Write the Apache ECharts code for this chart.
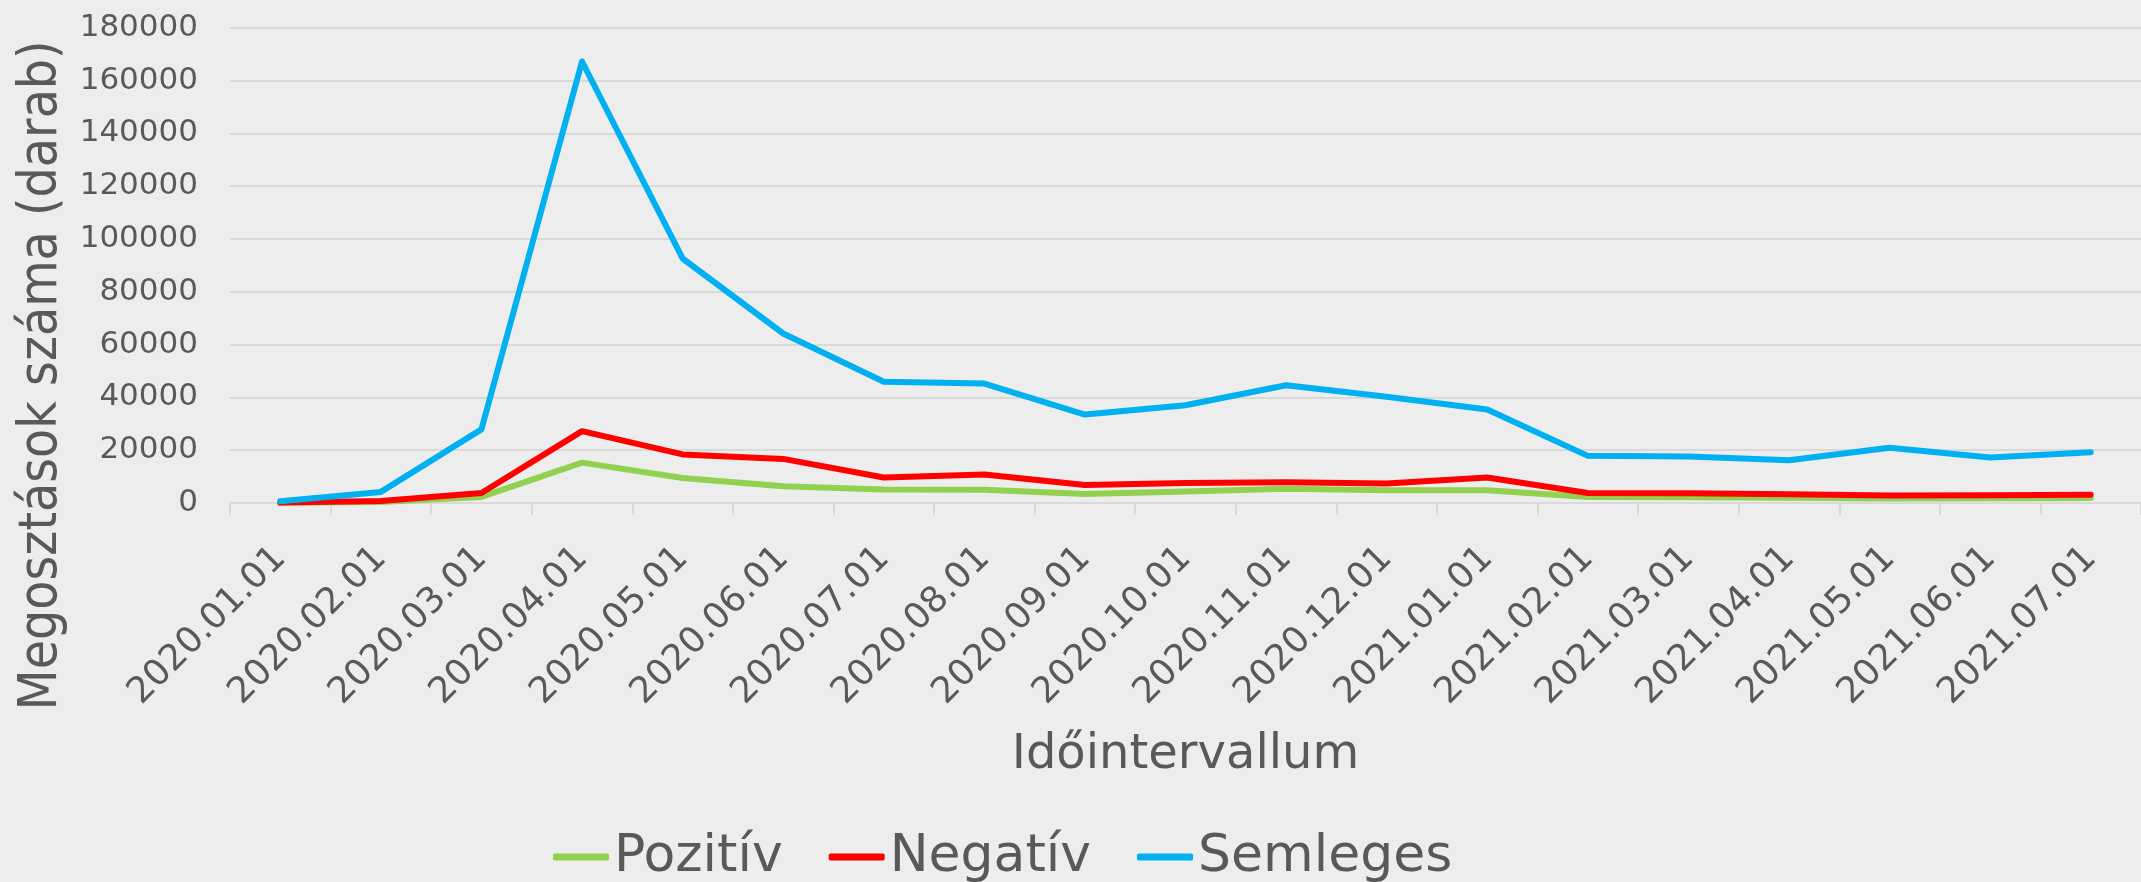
<!DOCTYPE html>
<html>
<head>
<meta charset="utf-8">
<script src="https://cdn.jsdelivr.net/npm/echarts@6/dist/echarts.min.js"></script>
<style>
html,body{margin:0;padding:0;background:#EDEDED;}
#chart{width:2141px;height:882px;}
</style>
</head>
<body>
<div id="chart"></div>
<script>
const categories = ['2020.01.01','2020.02.01','2020.03.01','2020.04.01','2020.05.01','2020.06.01','2020.07.01','2020.08.01','2020.09.01','2020.10.01','2020.11.01','2020.12.01','2021.01.01','2021.02.01','2021.03.01','2021.04.01','2021.05.01','2021.06.01','2021.07.01'];
const pozitiv  = [100, 400, 2300, 15300, 9500, 6350, 5100, 5000, 3450, 4350, 5350, 4850, 4850, 2300, 2200, 2000, 1700, 1800, 1900];
const negativ  = [150, 800, 3800, 27200, 18400, 16700, 9650, 10800, 6850, 7600, 7900, 7400, 9650, 3800, 3700, 3300, 2800, 2900, 3100];
const semleges = [700, 4200, 27900, 167200, 92600, 64200, 45900, 45250, 33500, 37000, 44600, 40200, 35400, 17850, 17600, 16200, 20900, 17200, 19250];
const seriesNames = ['Pozitív','Negatív','Semleges'];
const seriesColors = ['#92D050','#FF0000','#00B0F0'];
const yAxisName = 'Megosztások száma (darab)';
const xAxisName = 'Időintervallum';

const FONT = 'DejaVu Sans';
const TXT = '#595959';
const chart = echarts.init(document.getElementById('chart'), null, {renderer:'canvas'});
const mk = (name, data, color) => ({
  name, type:'line', data, symbol:'none', smooth:false,
  lineStyle:{color, width:6, cap:'round', join:'round'},
  itemStyle:{color}
});
chart.setOption({
  backgroundColor:'#EDEDED',
  animation:false,
  textStyle:{fontFamily:FONT, color:TXT},
  grid:{left:230, top:27.7, width:1926, height:475.3, containLabel:false},
  legend:{
    data:seriesNames, left:548, top:826, icon:'roundRect', itemWidth:56, itemHeight:7, itemGap:46,
    textStyle:{fontFamily:FONT, fontSize:52, color:TXT}
  },
  xAxis:{
    type:'category', data:categories, boundaryGap:true,
    axisLine:{show:true, lineStyle:{color:'#D9D9D9', width:2}},
    axisTick:{show:true, length:12, lineStyle:{color:'#D9D9D9', width:2}},
    axisLabel:{rotate:45, margin:50, fontSize:36, color:TXT, fontFamily:FONT, interval:0},
    name:xAxisName, nameLocation:'middle', nameGap:229,
    nameTextStyle:{fontSize:48, color:TXT, fontFamily:FONT}
  },
  yAxis:{
    type:'value', min:0, max:180000, interval:20000,
    axisLine:{show:false}, axisTick:{show:false},
    splitLine:{lineStyle:{color:'#D9D9D9', width:2}},
    axisLabel:{fontSize:31, color:TXT, fontFamily:FONT, margin:32, formatter:v => String(v)},
    name:yAxisName, nameLocation:'middle', nameRotate:90, nameGap:158,
    nameTextStyle:{fontSize:53, color:TXT, fontFamily:"'DejaVu Sans Condensed', 'DejaVu Sans'", padding:[0,220,0,0]}
  },
  series:[
    mk(seriesNames[0], pozitiv, seriesColors[0]),
    mk(seriesNames[1], negativ, seriesColors[1]),
    mk(seriesNames[2], semleges, seriesColors[2])
  ]
});
</script>
</body>
</html>
